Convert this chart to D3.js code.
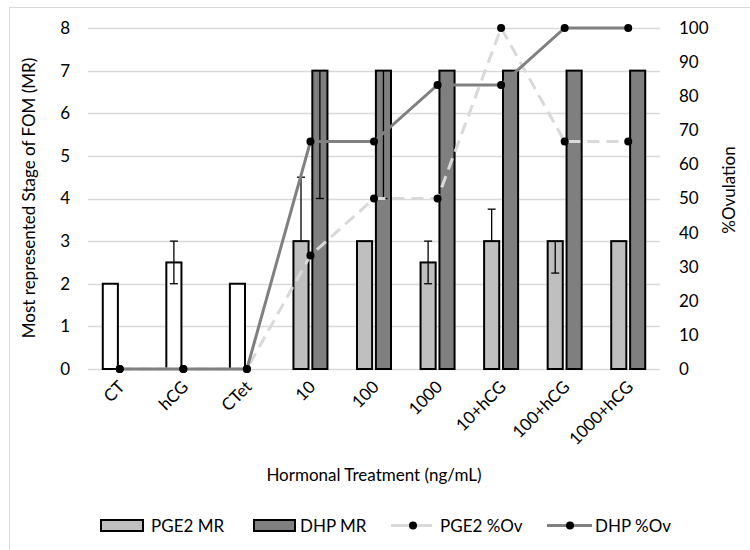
<!DOCTYPE html>
<html>
<head>
<meta charset="utf-8">
<script src="https://cdn.jsdelivr.net/npm/d3@7"></script>
<style>
  body { margin: 0; background: #fff; }
  svg { display: block; font-family: Lato, "Open Sans", sans-serif; }
</style>
</head>
<body>
<div id="chart"><svg width="750" height="550"></svg></div>
<script>
const categories = ["CT", "hCG", "CTet", "10", "100", "1000", "10+hCG", "100+hCG", "1000+hCG"];
const controls = ["CT", "hCG", "CTet"];

// most represented stage (left axis)
const pge2MR = [2, 2.5, 2, 3, 3, 2.5, 3, 3, 3];
const dhpMR = [null, null, null, 7, 7, 7, 7, 7, 7];
const pge2ErrPlus = [0, 0.5, 0, 1.5, 0, 0.5, 0.75, 0, 0];
const pge2ErrMinus = [0, 0.5, 0, 0, 0, 0.5, 0, 0.75, 0];
const dhpErrPlus = [0, 0, 0, 0, 0, 0, 0, 0, 0];
const dhpErrMinus = [0, 0, 0, 3, 3, 0, 0, 0, 0];

// % ovulation (right axis)
const pge2Ov = [0, 0, 0, 33.3, 50, 50, 100, 66.7, 66.7];
const dhpOv = [0, 0, 0, 66.7, 66.7, 83.3, 83.3, 100, 100];

const leftTicks = [0, 1, 2, 3, 4, 5, 6, 7, 8];
const rightTicks = [0, 10, 20, 30, 40, 50, 60, 70, 80, 90, 100];

const fontSize = 17;
const margin = {top: 28, left: 88, right: 90, bottom: 181};
const width = 750, height = 550;

const svg = d3.select("#chart svg");

svg.append("rect")
    .attr("x", 9.5).attr("y", 7.5)
    .attr("width", 780).attr("height", 580)
    .attr("fill", "#fff")
    .attr("stroke", "#d9d9d9");

const x0 = d3.scaleBand()
    .domain(categories)
    .range([margin.left, width - margin.right])
    .paddingInner(0.465)
    .paddingOuter(0.465 / 2);

const x1 = d3.scaleBand()
    .domain(["PGE2", "DHP"])
    .range([0, x0.bandwidth()])
    .paddingInner(0.2);

const y = d3.scaleLinear().domain([0, 8]).range([height - margin.bottom, margin.top]);
const y2 = d3.scaleLinear().domain([0, 100]).range([height - margin.bottom, margin.top]);

const cx = d => x0(d) + x0.bandwidth() / 2;

// gridlines
svg.append("g")
    .selectAll("line")
    .data(leftTicks)
    .join("line")
    .attr("x1", margin.left).attr("x2", width - margin.right)
    .attr("y1", d => Math.round(y(d)) + 0.5).attr("y2", d => Math.round(y(d)) + 0.5)
    .attr("stroke", "#d9d9d9")
    .attr("stroke-width", 1.3);

// left axis labels
svg.append("g")
    .selectAll("text")
    .data(leftTicks)
    .join("text")
    .attr("x", 70)
    .attr("y", d => y(d))
    .attr("dy", "0.35em")
    .attr("text-anchor", "end")
    .attr("font-size", fontSize)
    .attr("fill", "#000")
    .text(d => d);

// right axis labels
svg.append("g")
    .selectAll("text")
    .data(rightTicks)
    .join("text")
    .attr("x", 679)
    .attr("y", d => y2(d))
    .attr("dy", "0.35em")
    .attr("text-anchor", "start")
    .attr("font-size", fontSize)
    .attr("fill", "#000")
    .text(d => d);

// x tick labels
svg.append("g")
    .selectAll("text")
    .data(categories)
    .join("text")
    .attr("transform", d => `translate(${cx(d) + 6},${y(0) + 19}) rotate(-45)`)
    .attr("text-anchor", "end")
    .attr("font-size", fontSize)
    .text(d => d);

// axis titles
svg.append("text")
    .attr("transform", `translate(35,198) rotate(-90)`)
    .attr("text-anchor", "middle")
    .attr("font-size", fontSize)
    .text("Most represented Stage of FOM (MR)");

svg.append("text")
    .attr("transform", `translate(735,190) rotate(-90)`)
    .attr("text-anchor", "middle")
    .attr("font-size", fontSize)
    .text("%Ovulation");

svg.append("text")
    .attr("x", cx("CT") / 2 + cx("1000+hCG") / 2)
    .attr("y", 481)
    .attr("text-anchor", "middle")
    .attr("font-size", fontSize)
    .text("Hormonal Treatment (ng/mL)");

// bars
const barData = categories.map((c, i) => [
    {cat: c, s: "PGE2", v: pge2MR[i], plus: pge2ErrPlus[i], minus: pge2ErrMinus[i]},
    {cat: c, s: "DHP", v: dhpMR[i], plus: dhpErrPlus[i], minus: dhpErrMinus[i]}
]).flat().filter(d => d.v != null);

const barColor = d => controls.includes(d.cat) ? "#fff" : d.s === "PGE2" ? "#bfbfbf" : "#7f7f7f";

svg.append("g")
    .selectAll("rect")
    .data(barData)
    .join("rect")
    .attr("x", d => x0(d.cat) + x1(d.s))
    .attr("y", d => y(d.v))
    .attr("width", x1.bandwidth())
    .attr("height", d => y(0) - y(d.v))
    .attr("fill", barColor)
    .attr("stroke", "#000")
    .attr("stroke-width", 2);

// error bars
const errG = svg.append("g").attr("stroke", "#000").attr("stroke-width", 1.3);
barData.filter(d => d.plus || d.minus).forEach(d => {
    const ex = x0(d.cat) + x1(d.s) + x1.bandwidth() / 2;
    const top = y(d.v + d.plus), bot = y(d.v - d.minus);
    errG.append("line").attr("x1", ex).attr("x2", ex).attr("y1", top).attr("y2", bot);
    if (d.plus) errG.append("line").attr("x1", ex - 4).attr("x2", ex + 4).attr("y1", top).attr("y2", top);
    if (d.minus) errG.append("line").attr("x1", ex - 4).attr("x2", ex + 4).attr("y1", bot).attr("y2", bot);
});

// lines
const line = d3.line()
    .x((d, i) => cx(categories[i]))
    .y(d => y2(d));

svg.append("path")
    .datum(pge2Ov)
    .attr("d", line)
    .attr("fill", "none")
    .attr("stroke", "#d9d9d9")
    .attr("stroke-width", 3)
    .attr("stroke-dasharray", "12,7");

svg.append("path")
    .datum(dhpOv)
    .attr("d", line)
    .attr("fill", "none")
    .attr("stroke", "#808080")
    .attr("stroke-width", 3);

[pge2Ov, dhpOv].forEach(series => {
    svg.append("g")
        .selectAll("circle")
        .data(series)
        .join("circle")
        .attr("cx", (d, i) => cx(categories[i]))
        .attr("cy", d => y2(d))
        .attr("r", 4)
        .attr("fill", "#000");
});

// legend
const legend = svg.append("g");
const ly = 525.5;

legend.append("rect").attr("x", 101).attr("y", ly - 5.5).attr("width", 42).attr("height", 11)
    .attr("fill", "#bfbfbf").attr("stroke", "#000").attr("stroke-width", 2);
legend.append("text").attr("x", 151).attr("y", ly + 6).attr("font-size", fontSize).text("PGE2 MR");

legend.append("rect").attr("x", 254).attr("y", ly - 5.5).attr("width", 41).attr("height", 11)
    .attr("fill", "#7f7f7f").attr("stroke", "#000").attr("stroke-width", 2);
legend.append("text").attr("x", 300).attr("y", ly + 6).attr("font-size", fontSize).text("DHP MR");

legend.append("line").attr("x1", 391).attr("x2", 432).attr("y1", ly).attr("y2", ly)
    .attr("stroke", "#d9d9d9").attr("stroke-width", 3);
legend.append("circle").attr("cx", 413).attr("cy", ly).attr("r", 4).attr("fill", "#000");
legend.append("text").attr("x", 440).attr("y", ly + 6).attr("font-size", fontSize).text("PGE2 %Ov");

legend.append("line").attr("x1", 547).attr("x2", 592).attr("y1", ly).attr("y2", ly)
    .attr("stroke", "#808080").attr("stroke-width", 3);
legend.append("circle").attr("cx", 570).attr("cy", ly).attr("r", 4).attr("fill", "#000");
legend.append("text").attr("x", 595).attr("y", ly + 6).attr("font-size", fontSize).text("DHP %Ov");
</script>
</body>
</html>
